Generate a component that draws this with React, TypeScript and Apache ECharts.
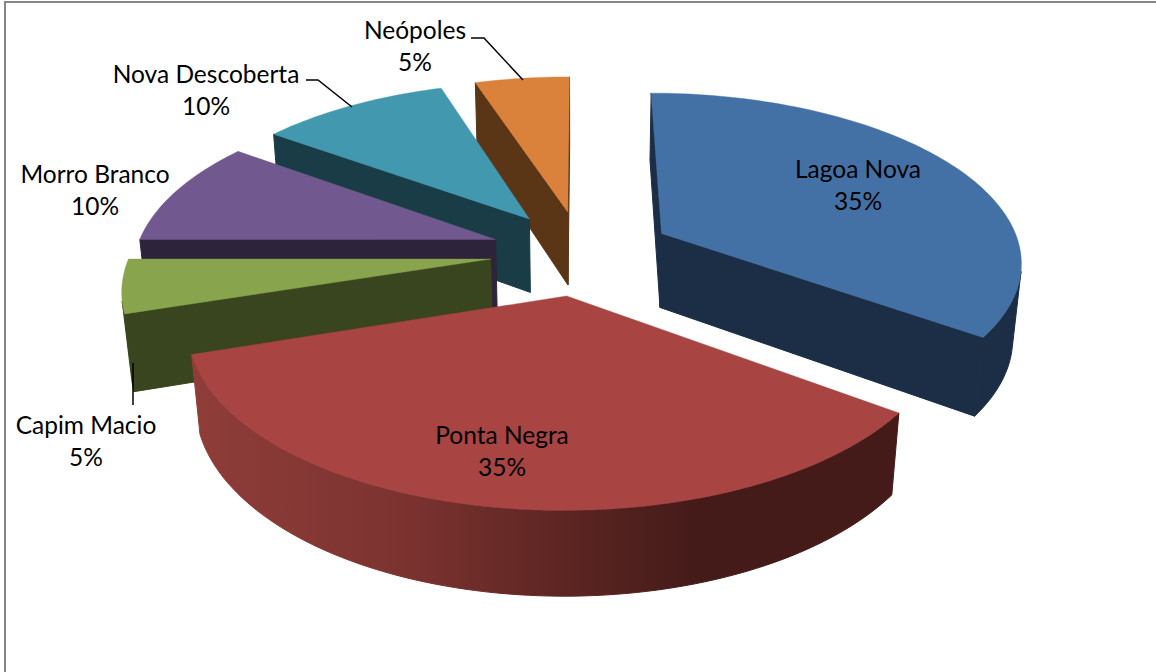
import React, { useEffect, useRef } from "react";
import * as echarts from "echarts";

// Share of each district, clockwise from twelve o'clock.
const districts = ["Lagoa Nova", "Ponta Negra", "Capim Macio", "Morro Branco", "Nova Descoberta", "Neópoles"];
const shares = [35, 35, 5, 10, 10, 5];

const topColors = ["#4471A5", "#A84442", "#88A44D", "#71588F", "#4198AF", "#DA823C"];
const wallColors = ["#1B2E46", "#451B19", "#39451F", "#2D233A", "#193C46", "#5A3516"];

// Lit rim of the large front slice, darkening from left to right.
const rimStops = [
  { offset: 0, color: "#8F3D39" },
  { offset: 0.3, color: "#7C3330" },
  { offset: 0.52, color: "#5E2623" },
  { offset: 0.72, color: "#441B19" },
  { offset: 1, color: "#441B19" },
];

// Where each text block sits on the page: centre x, first-line centre y.
const labelSpots = [
  [858, 168],
  [502, 434],
  [86, 424],
  [95, 173],
  [206, 73],
  [415, 29],
];
const leaderLines = [
  [[471, 38], [484, 38], [523, 80]],
  [[306, 80], [318, 80], [352, 107]],
  [[133, 363], [133, 405]],
];

// Perspective camera: unit disc u (right), v (far), z (0 top face, 1 bottom face).
const CX = 581.5;
const CY = 252.4;
const SCALE_X = 360;
const SCALE_Y = 167;
const FORESHORTEN = 0.152;
const THICKNESS = 76.4;
const DROP = 0.02;
const EXPLODE = 0.254;

function project(u: number, v: number, z: number): [number, number] {
  const w = 1 + FORESHORTEN * v + DROP * z;
  return [CX + (SCALE_X * u) / w, CY + (-SCALE_Y * v + THICKNESS * z) / w];
}

function signedArea(pts: number[][]) {
  let sum = 0;
  pts.forEach((p, i) => {
    const q = pts[(i + 1) % pts.length];
    sum += p[0] * q[1] - q[0] * p[1];
  });
  return sum;
}

function renderSlice(_params: any, api: any) {
  const share = api.value(0);
  const before = api.value(1);
  const idx = api.value(2);
  const total = shares.reduce((a, b) => a + b, 0);
  const start = (before / total) * Math.PI * 2;
  const end = ((before + share) / total) * Math.PI * 2;
  const mid = (start + end) / 2;
  const ox = EXPLODE * Math.sin(mid);
  const oy = EXPLODE * Math.cos(mid);

  const rim = (a: number, z: number) => project(ox + Math.sin(a), oy + Math.cos(a), z);
  const apex = (z: number) => project(ox, oy, z);
  const steps = Math.max(12, Math.round((end - start) * 40));
  const angles: number[] = [];
  for (let i = 0; i <= steps; i++) angles.push(start + ((end - start) * i) / steps);

  const children: any[] = [];
  const fillFor = () =>
    idx === 1 ? new echarts.graphic.LinearGradient(191, 0, 892, 0, rimStops, true) : wallColors[idx];
  const addWall = (points: number[][], fill: any) =>
    children.push({
      type: "polygon",
      shape: { points },
      style: { fill, stroke: fill, lineWidth: 1 },
    });

  // Straight cut walls, kept only where they face the camera.
  const cutA = [apex(0), rim(start, 0), rim(start, 1), apex(1)];
  const cutB = [rim(end, 0), apex(0), apex(1), rim(end, 1)];
  if (signedArea(cutA) < 0) addWall(cutA, wallColors[idx]);
  if (signedArea(cutB) < 0) addWall(cutB, wallColors[idx]);

  // Curved wall: one polygon for each run of camera-facing steps.
  let run: number[] = [];
  const flush = () => {
    if (run.length > 1) {
      const upper = run.map((a) => rim(a, 0));
      const lower = run.map((a) => rim(a, 1)).reverse();
      addWall([...upper, ...lower], fillFor());
    }
    run = [];
  };
  for (let i = 0; i < steps; i++) {
    const a = angles[i];
    const b = angles[i + 1];
    const facing = signedArea([rim(a, 0), rim(b, 0), rim(b, 1), rim(a, 1)]) < 0;
    if (facing) {
      if (!run.length) run.push(a);
      run.push(b);
    } else flush();
  }
  flush();

  // Top face.
  const top = [apex(0), ...angles.map((a) => rim(a, 0))];
  children.push({
    type: "polygon",
    shape: { points: top },
    style: { fill: topColors[idx], stroke: topColors[idx], lineWidth: 0.4 },
  });

  return { type: "group", children };
}

export default function App() {
  const ref = useRef<HTMLDivElement>(null);

  useEffect(() => {
    document.body.style.margin = "0";
    const chart = echarts.init(ref.current!, undefined, { renderer: "svg" });

    let running = 0;
    const rows = shares.map((s, i) => {
      const row = [s, running, i];
      running += s;
      return row;
    });
    // Far slices first so the nearer ones paint over them.
    const depthOf = (row: number[]) => {
      const mid = ((row[1] + row[0] / 2) / running) * Math.PI * 2;
      return Math.cos(mid);
    };
    const ordered = [...rows].sort((a, b) => depthOf(b) - depthOf(a));

    const font = { fontFamily: "Lato", fontSize: 24.5, fill: "#000000" };
    const texts: any[] = [];
    districts.forEach((name, i) => {
      const [x, y] = labelSpots[i];
      texts.push({
        type: "text",
        x,
        y,
        z: 20,
        silent: true,
        style: { ...font, text: name, align: "center", verticalAlign: "middle" },
      });
      texts.push({
        type: "text",
        x,
        y: y + 32,
        z: 20,
        silent: true,
        style: { ...font, text: `${shares[i]}%`, align: "center", verticalAlign: "middle" },
      });
    });
    const leaders = leaderLines.map((points) => ({
      type: "polyline",
      z: 20,
      silent: true,
      shape: { points },
      style: { stroke: "#000000", lineWidth: 1.5, fill: "none" },
    }));
    const frame = {
      type: "polyline",
      z: 1,
      silent: true,
      shape: { points: [[5, 672], [5, 2], [1156, 2]] },
      style: { stroke: "#868686", lineWidth: 2, fill: "none" },
    };

    chart.setOption({
      animation: false,
      backgroundColor: "#ffffff",
      graphic: { elements: [frame, ...leaders, ...texts] },
      series: [
        {
          type: "custom",
          coordinateSystem: "none",
          silent: true,
          renderItem: renderSlice,
          data: ordered,
          z: 5,
        },
      ],
    });
    return () => chart.dispose();
  }, []);

  return <div ref={ref} style={{ width: 1156, height: 672 }} />;
}
